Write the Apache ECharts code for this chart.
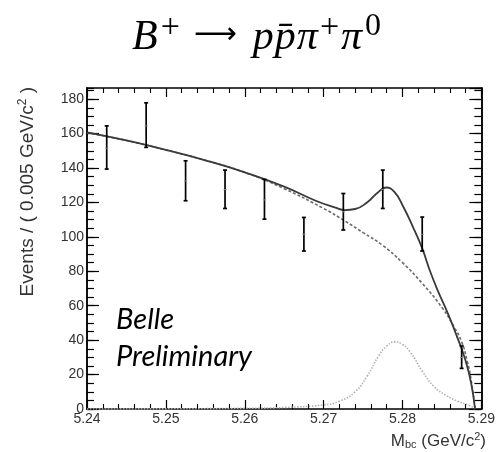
<!DOCTYPE html>
<html>
<head>
<meta charset="utf-8">
<script src="https://cdn.jsdelivr.net/npm/echarts@6/dist/echarts.min.js"></script>
<style>
html,body{margin:0;padding:0;background:#fff;}
#c{width:498px;height:452px;}
</style>
</head>
<body>
<div id="c"></div>
<script>
// ---- data ----
var binCenters = [5.2425, 5.2475, 5.2525, 5.2575, 5.2625, 5.2675, 5.2725, 5.2775, 5.2825, 5.2875];
var binCounts  = [151.5, 164.5, 132.5, 127.5, 121.5, 101.5, 114.6, 127.6, 101.5, 30.0];
var errLow     = [139.4, 152.0, 121.0, 116.5, 110.3, 91.8, 104.0, 116.5, 91.8, 23.6];
var errHigh    = [164.5, 177.9, 144.2, 138.8, 133.4, 111.3, 125.2, 138.8, 111.5, 36.6];

var totalX = [5.2400, 5.2450, 5.2500, 5.2550, 5.2600, 5.2650, 5.2690, 5.2715, 5.2727, 5.2740, 5.2755, 5.2768, 5.2779, 5.2790, 5.2801, 5.2813, 5.2825, 5.2835, 5.2845, 5.2858, 5.2870, 5.2880, 5.2887, 5.2892];
var totalY = [160.7, 156.0, 150.5, 144.5, 137.5, 129.2, 121.0, 117.0, 115.6, 116.2, 120.0, 125.5, 128.7, 126.0, 117.5, 106.0, 93.3, 80.0, 68.5, 55.0, 41.0, 28.0, 15.0, 0.0];

var bkgX = [5.2400, 5.2450, 5.2500, 5.2550, 5.2600, 5.2650, 5.2700, 5.2725, 5.2750, 5.2775, 5.2800, 5.2825, 5.2850, 5.2865, 5.2875, 5.2882, 5.2887, 5.2892];
var bkgY = [160.5, 156.0, 150.5, 144.5, 137.5, 128.0, 116.5, 109.8, 102.5, 95.0, 85.0, 73.0, 59.0, 48.0, 39.0, 28.0, 17.0, 0.0];

var sigX = [5.2400, 5.2500, 5.2600, 5.2650, 5.2700, 5.2720, 5.2740, 5.2755, 5.2770, 5.2780, 5.2790, 5.2800, 5.2810, 5.2825, 5.2840, 5.2855, 5.2870, 5.2885, 5.2892];
var sigY = [0.0, 0.1, 0.4, 0.9, 2.4, 4.5, 10.0, 19.0, 31.0, 36.5, 39.0, 37.5, 33.0, 22.0, 13.0, 8.0, 4.5, 2.0, 0.0];

var xTicks = ['5.24', '5.25', '5.26', '5.27', '5.28', '5.29'];
var yTicks = ['0', '20', '40', '60', '80', '100', '120', '140', '160', '180'];

// ---- build ----
function pairs(xs, ys) { return xs.map(function (x, i) { return [x, ys[i]]; }); }
var errData = binCenters.map(function (x, i) { return [x, binCounts[i], errLow[i], errHigh[i]]; });

var XMIN = 5.24, XMAX = 5.29, YMIN = 0, YMAX = 186.5;
var axisFont = 'Liberation Sans, Arial, sans-serif';

function xAx(pos, labels) {
  return {
    type: 'value', position: pos, min: XMIN, max: XMAX, interval: 0.01,
    axisLine: { show: true, onZero: false, lineStyle: { color: '#000', width: 1.5 } },
    axisTick: { show: true, inside: true, length: 9, lineStyle: { color: '#000', width: 1.2 } },
    minorTick: { show: true, splitNumber: 5, length: 5, lineStyle: { color: '#000', width: 1.1 } },
    splitLine: { show: false },
    axisLabel: labels ? {
      show: true, margin: 3, color: '#333', fontSize: 14, fontFamily: axisFont,
      formatter: function (v) { var s = v.toFixed(2); return xTicks.indexOf(s) >= 0 ? s : ''; }
    } : { show: false }
  };
}
function yAx(pos, interval, len, labels) {
  return {
    type: 'value', position: pos, min: YMIN, max: YMAX, interval: interval,
    axisLine: { show: true, onZero: false, lineStyle: { color: '#000', width: 1.5 } },
    axisTick: { show: true, inside: true, length: len, lineStyle: { color: '#000', width: 1.2 } },
    splitLine: { show: false },
    axisLabel: labels ? {
      show: true, margin: 3, color: '#333', fontSize: 14, fontFamily: axisFont,
      showMaxLabel: false,
      formatter: function (v) { var s = String(Math.round(v)); return (Math.abs(v - Math.round(v)) < 1e-6 && yTicks.indexOf(s) >= 0) ? s : ''; }
    } : { show: false }
  };
}

var serif = 'Liberation Serif, serif';
var LH = 48;
var chart = echarts.init(document.getElementById('c'), null, { renderer: 'canvas' });
chart.setOption({
  animation: false,
  backgroundColor: '#fff',
  grid: { left: 87, top: 88, right: 13, bottom: 43 },
  xAxis: [xAx('bottom', true), xAx('top', false)],
  yAxis: [yAx('left', 20, 12, true), yAx('left', 5, 7, false), yAx('right', 20, 12, false), yAx('right', 5, 7, false)],
  title: {
    left: 127, top: 6,
    text: '{i|B}{s1|+}{a|\u27F6}{i|p}{i|p\u0304}{i|π}{s2|+}{i|π}{s3|0}',
    textStyle: {
      fontWeight: 'normal',
      rich: {
        i: { fontFamily: serif, fontStyle: 'italic', fontWeight: 'normal', fontSize: 42, color: '#000', verticalAlign: 'bottom', lineHeight: LH, padding: [0, 1, 0, 0] },
        s1: { fontFamily: serif, fontWeight: 'normal', fontSize: 34, color: '#000', verticalAlign: 'top', lineHeight: LH, padding: [0, 8, 18, 2] },
        s2: { fontFamily: serif, fontWeight: 'normal', fontSize: 34, color: '#000', verticalAlign: 'top', lineHeight: LH, padding: [0, 2, 18, 1] },
        s3: { fontFamily: serif, fontWeight: 'normal', fontSize: 32, color: '#000', verticalAlign: 'top', lineHeight: LH, padding: [0, 0, 18, 2] },
        a: { fontFamily: 'DejaVu Sans, sans-serif', fontWeight: 'normal', fontSize: 30, color: '#000', lineHeight: LH, padding: [0, 16, 0, 6] }
      }
    }
  },
  graphic: [
    { type: 'text', left: 116, top: 305, style: { text: 'Belle', font: 'italic 29px Lato, sans-serif', fill: '#000' } },
    { type: 'text', left: 116, top: 342, style: { text: 'Preliminary', font: 'italic 29px Lato, sans-serif', fill: '#000' } },
    {
      type: 'text', x: 28, y: 87, rotation: Math.PI / 2,
      style: {
        text: 'Events / ( 0.005 GeV/c{sup|2} )', align: 'right', verticalAlign: 'middle',
        font: '19px Liberation Sans, Arial, sans-serif', fill: '#333',
        rich: { sup: { fontSize: 12, fontFamily: 'Liberation Sans, Arial, sans-serif', verticalAlign: 'top', padding: [0, 0, 10, 0], fill: '#333' } }
      }
    },
    {
      type: 'text', x: 486, y: 441,
      style: {
        text: 'M{sub|bc} (GeV/c{sup|2})', align: 'right', verticalAlign: 'middle',
        font: '17px Liberation Sans, Arial, sans-serif', fill: '#333',
        rich: {
          sub: { fontSize: 11, fontFamily: 'Liberation Sans, Arial, sans-serif', padding: [8, 0, 0, 0], fill: '#333' },
          sup: { fontSize: 11, fontFamily: 'Liberation Sans, Arial, sans-serif', padding: [0, 0, 9, 0], fill: '#333' }
        }
      }
    }
  ],
  series: [
    {
      type: 'line', name: 'signal', data: pairs(sigX, sigY), smooth: 0.5, showSymbol: false,
      lineStyle: { color: '#b0b0b0', width: 1.6, type: [1.5, 1.5] }, z: 2
    },
    {
      type: 'line', name: 'background', data: pairs(bkgX, bkgY), smooth: 0.5, showSymbol: false,
      lineStyle: { color: '#6a6a6a', width: 1.6, type: [3, 2] }, z: 3
    },
    {
      type: 'line', name: 'total', data: pairs(totalX, totalY), smooth: 0.5, showSymbol: false,
      lineStyle: { color: '#3a3a3a', width: 1.8 }, z: 4
    },
    {
      type: 'custom', name: 'data', data: errData, z: 5,
      renderItem: function (params, api) {
        var x = api.value(0);
        var c = api.coord([x, api.value(1)]);
        var lo = api.coord([x, api.value(2)]);
        var hi = api.coord([x, api.value(3)]);
        var st = { stroke: '#000', lineWidth: 1.7 };
        var w = 2;
        return {
          type: 'group',
          children: [
            { type: 'line', shape: { x1: lo[0], y1: lo[1], x2: hi[0], y2: hi[1] }, style: st },
            { type: 'line', shape: { x1: lo[0] - w, y1: lo[1], x2: lo[0] + w, y2: lo[1] }, style: st },
            { type: 'line', shape: { x1: hi[0] - w, y1: hi[1], x2: hi[0] + w, y2: hi[1] }, style: st },
            { type: 'line', shape: { x1: c[0] - 1.5, y1: c[1], x2: c[0] + 1.5, y2: c[1] }, style: { stroke: '#888', lineWidth: 1 } }
          ]
        };
      }
    }
  ]
});
</script>
</body>
</html>
